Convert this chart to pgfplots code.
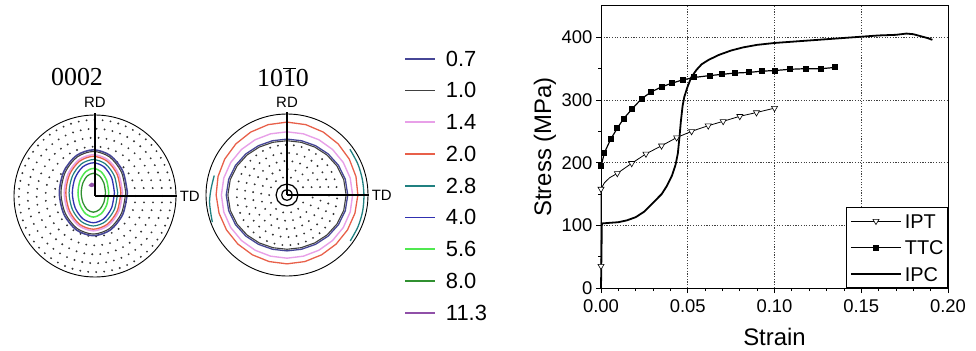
\documentclass[border=0pt]{standalone}
\usepackage{fontspec}
\setmainfont{Liberation Sans}
\newfontfamily\seriffont{Liberation Serif}
\usepackage{pgfplots}
\pgfplotsset{compat=1.18}
\usepgfplotslibrary{polar}
\definecolor{c07}{RGB}{70,70,150}
\definecolor{c10}{RGB}{64,64,64}
\definecolor{c14}{RGB}{232,160,232}
\definecolor{c20}{RGB}{232,96,74}
\definecolor{c28}{RGB}{32,128,128}
\definecolor{c40}{RGB}{48,48,176}
\definecolor{c56}{RGB}{80,232,80}
\definecolor{c80}{RGB}{48,144,48}
\definecolor{c113}{RGB}{144,80,168}
\pgfplotsset{pf/.style={scale only axis, width=162bp, height=162bp, ymin=0, ymax=1,
  xtick=\empty, yticklabels={}, xmajorgrids=false, ymajorgrids=true, major tick length=0pt,
  major grid style={black!80, line width=2.1bp, dash pattern=on 0pt off 8bp, line cap=round},
  axis line style={black, line width=0.9bp}, clip=false}}
\begin{document}
\begin{tikzpicture}
\useasboundingbox (0,0) rectangle (976bp,351bp);
% ---------------- pole figure 0002 ----------------
\begin{polaraxis}[pf, at={(95bp,155bp)}, anchor=center,
  ytick={0.17,0.28,0.39,0.50,0.61,0.72,0.83,0.94}]
\addplot[c07, line width=1.6bp, fill=white, smooth, data cs=cart, forget plot] coordinates {(.40,.04)(.3437,.305)(.19,.499)(-.02,.57)(-.23,.499)(-.3837,.305)(-.44,.04)(-.3837,-.225)(-.23,-.419)(-.02,-.49)(.19,-.419)(.3437,-.225)(.40,.04)};
\addplot[c10, line width=1.1bp, smooth, data cs=cart, forget plot] coordinates {(.38,.04)(.3264,.295)(.18,.4817)(-.02,.55)(-.22,.4817)(-.3664,.295)(-.42,.04)(-.3664,-.215)(-.22,-.4017)(-.02,-.47)(.18,-.4017)(.3264,-.215)(.38,.04)};
\addplot[c14, line width=1.5bp, smooth, data cs=cart, forget plot] coordinates {(.34,.04)(.2918,.275)(.16,.447)(-.02,.51)(-.20,.447)(-.3318,.275)(-.38,.04)(-.3318,-.195)(-.20,-.367)(-.02,-.43)(.16,-.367)(.2918,-.195)(.34,.04)};
\addplot[c20, line width=1.3bp, smooth, data cs=cart, forget plot] coordinates {(.32,.04)(.2744,.265)(.15,.4297)(-.02,.49)(-.19,.4297)(-.3144,.265)(-.36,.04)(-.3144,-.185)(-.19,-.3497)(-.02,-.41)(.15,-.3497)(.2744,-.185)(.32,.04)};
\addplot[c28, line width=1.2bp, smooth, data cs=cart, forget plot] coordinates {(.28,.04)(.2398,.245)(.13,.3951)(-.02,.45)(-.17,.3951)(-.2798,.245)(-.32,.04)(-.2798,-.165)(-.17,-.3151)(-.02,-.37)(.13,-.3151)(.2398,-.165)(.28,.04)};
\addplot[c40, line width=1.3bp, smooth, data cs=cart, forget plot] coordinates {(.24,.04)(.2052,.225)(.11,.3604)(-.02,.41)(-.15,.3604)(-.2452,.225)(-.28,.04)(-.2452,-.145)(-.15,-.2804)(-.02,-.33)(.11,-.2804)(.2052,-.145)(.24,.04)};
\addplot[c56, line width=1.5bp, smooth, data cs=cart, forget plot] coordinates {(.17,.04)(.1445,.19)(.075,.2998)(-.02,.34)(-.115,.2998)(-.1845,.19)(-.21,.04)(-.1845,-.11)(-.115,-.2198)(-.02,-.26)(.075,-.2198)(.1445,-.11)(.17,.04)};
\addplot[c80, line width=1.3bp, smooth, data cs=cart, forget plot] coordinates {(.13,.04)(.1099,.16)(.055,.2478)(-.02,.28)(-.095,.2478)(-.1499,.16)(-.17,.04)(-.1499,-.08)(-.095,-.1678)(-.02,-.20)(.055,-.1678)(.1099,-.08)(.13,.04)};
\addplot[c113, line width=0.8bp, fill=c113, smooth, data cs=cart, forget plot] coordinates {(-.075,.13)(-.04,.16)(-.005,.135)(-.04,.115)(-.075,.13)};
\addplot[black, line width=1.1bp, forget plot] coordinates {(90,0) (90,1.03)};
\addplot[black, line width=1.1bp, forget plot] coordinates {(0,0) (0,1.01)};
\node[font=\fontsize{15}{17}\selectfont] at (axis cs:90,1.15) {RD};
\node[font=\fontsize{15}{17}\selectfont] at (axis cs:0,1.17) {TD};
\end{polaraxis}
% ---------------- pole figure 10-10 ----------------
\begin{polaraxis}[pf, at={(287bp,156bp)}, anchor=center,
  ytick={0.22,0.32,0.42,0.52,0.62},
  legend style={at={(1.222,1.395)}, anchor=north west, draw=none, fill=none, inner sep=0pt,
    row sep=15.75bp, column sep=10bp, font=\fontsize{22}{24}\selectfont,
    nodes={inner sep=0pt, text height=16bp, text depth=0pt}, cells={anchor=base west}},
  legend image code/.code={\draw[#1] (0bp,7.5bp) -- (30bp,7.5bp);}]
\addplot[c20, line width=1.3bp, forget plot] coordinates {(0,.875)(15,.8815)(30,.8875)(45,.8927)(60,.8967)(75,.8991)(90,.90)(105,.8991)(120,.8967)(135,.8927)(150,.8875)(165,.8815)(180,.875)(195,.8685)(210,.8625)(225,.8573)(240,.8533)(255,.8509)(270,.85)(285,.8509)(300,.8533)(315,.8573)(330,.8625)(345,.8685)(360,.875)};
\addplot[c14, line width=1.4bp, forget plot] coordinates {(0,.81)(15,.808)(30,.8025)(45,.795)(60,.7875)(75,.782)(90,.78)(105,.782)(120,.7875)(135,.795)(150,.8025)(165,.808)(180,.81)(195,.808)(210,.8025)(225,.795)(240,.7875)(255,.782)(270,.78)(285,.782)(300,.7875)(315,.795)(330,.8025)(345,.808)(360,.81)};
\addplot[c07, line width=1.3bp, forget plot] coordinates {(0,.75)(15,.7455)(30,.7335)(45,.7181)(60,.7036)(75,.6935)(90,.69)(105,.6935)(120,.7036)(135,.7181)(150,.7335)(165,.7455)(180,.75)(195,.7455)(210,.7335)(225,.7181)(240,.7036)(255,.6935)(270,.69)(285,.6935)(300,.7036)(315,.7181)(330,.7335)(345,.7455)(360,.75)};
\addplot[c10, line width=1.1bp, forget plot] coordinates {(0,.73)(15,.7255)(30,.7135)(45,.6981)(60,.6836)(75,.6735)(90,.67)(105,.6735)(120,.6836)(135,.6981)(150,.7135)(165,.7255)(180,.73)(195,.7255)(210,.7135)(225,.6981)(240,.6836)(255,.6735)(270,.67)(285,.6735)(300,.6836)(315,.6981)(330,.7135)(345,.7255)(360,.73)};
\addplot[c28, line width=1.3bp, smooth, data cs=cart, forget plot] coordinates {(.7766,.5645)(.8724,.3884)(.9292,.1975)(.95,0)(.9341,-.1985)(.877,-.3904)(.7807,-.5674)};
\addplot[c28, line width=1.3bp, smooth, data cs=cart, forget plot] coordinates {(-.8983,.2407)(-.9364,.082)(-.9564,-.0837)(-.9369,-.251)(-.9209,-.3352)};
\addplot[black, line width=1.2bp, forget plot] coordinates {(0,.135)(30,.135)(60,.135)(90,.135)(120,.135)(150,.135)(180,.135)(210,.135)(240,.135)(270,.135)(300,.135)(330,.135)(360,.135)};
\addplot[black, line width=1.2bp, forget plot] coordinates {(0,.065)(30,.065)(60,.065)(90,.065)(120,.065)(150,.065)(180,.065)(210,.065)(240,.065)(270,.065)(300,.065)(330,.065)(360,.065)};
\addplot[black, line width=1.1bp, forget plot] coordinates {(90,0) (90,1.02)};
\addplot[black, line width=1.1bp, forget plot] coordinates {(0,0) (0,1.01)};
\node[font=\fontsize{15}{17}\selectfont] at (axis cs:90,1.14) {RD};
\node[font=\fontsize{15}{17}\selectfont] at (axis cs:0,1.17) {TD};
\addlegendimage{c07, line width=1.8bp}\addlegendentry{0.7}
\addlegendimage{c10, line width=1.8bp}\addlegendentry{1.0}
\addlegendimage{c14, line width=1.8bp}\addlegendentry{1.4}
\addlegendimage{c20, line width=1.8bp}\addlegendentry{2.0}
\addlegendimage{c28, line width=1.8bp}\addlegendentry{2.8}
\addlegendimage{c40, line width=1.8bp}\addlegendentry{4.0}
\addlegendimage{c56, line width=1.8bp}\addlegendentry{5.6}
\addlegendimage{c80, line width=1.8bp}\addlegendentry{8.0}
\addlegendimage{c113, line width=1.8bp}\addlegendentry{11.3}
\end{polaraxis}
\node[font=\seriffont\fontsize{26}{28}\selectfont] at (77bp,274bp) {0002};
\node[font=\seriffont\fontsize{26}{28}\selectfont] at (283bp,274bp) {10$\overline{\hbox{1}}$0};
% ---------------- stress-strain ----------------
\begin{axis}[at={(601bp,63bp)}, anchor=south west, scale only axis, width=347bp, height=282bp,
  xmin=0, xmax=0.2, ymin=0, ymax=450,
  xtick={0,0.05,0.1,0.15,0.2}, xticklabels={0.00,0.05,0.10,0.15,0.20},
  ytick={0,100,200,300,400}, yticklabels={0,100,200,300,400},
  minor x tick num=4, minor y tick num=1, tick align=outside, tick pos=left,
  major tick length=5bp, minor tick length=3bp, tick style={black, line width=0.8bp},
  xmajorgrids, ymajorgrids, major grid style={black!75, line width=0.6bp, dash pattern=on 1.2bp off 1.5bp},
  axis line style={black, line width=1bp},
  ticklabel style={font=\fontsize{18.5}{20}\selectfont},
  xticklabel style={yshift=-3bp},
  xlabel=Strain, ylabel={Stress (MPa)},
  label style={font=\fontsize{24}{26}\selectfont, inner sep=0pt},
  xlabel style={at={(axis description cs:0.5,0)}, anchor=north, yshift=-40bp},
  ylabel style={at={(axis description cs:0,0.5)}, anchor=center, yshift=56bp},
  clip=false,
  legend style={at={(1,0)}, anchor=south east, draw=black, line width=0.8bp, fill=white,
    inner xsep=4bp, inner ysep=6.5bp, row sep=12bp, column sep=3bp,
    font=\fontsize{20}{22}\selectfont, nodes={inner sep=0pt, text height=14.5bp, text depth=0pt},
    cells={anchor=base west}},
  legend image code/.code={\draw[mark repeat=2, mark phase=2, #1] plot coordinates {(0bp,7bp) (25bp,7bp) (50bp,7bp)};}]
% IPC
\addplot[black, line width=1.8bp, forget plot] coordinates {(0,0) (0.0005,103) (0.005,104) (0.010,105) (0.015,108) (0.020,113) (0.025,122) (0.030,136) (0.035,150) (0.038,163) (0.041,180) (0.043,197) (0.0443,215) (0.0452,240) (0.046,265) (0.047,290) (0.048,305) (0.050,322) (0.052,336) (0.055,348) (0.058,357) (0.062,364) (0.068,372) (0.075,379) (0.082,384) (0.090,388) (0.100,391) (0.110,393) (0.120,395) (0.130,397) (0.140,399) (0.150,401) (0.160,403) (0.170,404) (0.176,406) (0.180,405) (0.184,402) (0.188,399) (0.191,396)};
% IPT
\addplot[black, line width=0.8bp, forget plot] coordinates {(0,35) (0,158) (0.002,168) (0.005,176) (0.0094,183) (0.0177,199) (0.0259,214) (0.0349,227) (0.0436,240) (0.0522,250) (0.0618,259) (0.0704,266) (0.080,274) (0.0896,280) (0.100,287)};
\addplot[only marks, mark=triangle*, mark size=3.5bp, mark options={rotate=180, fill=white, draw=black, line width=0.6bp}, forget plot] coordinates {(0,35) (0,158) (0.0094,183) (0.0177,199) (0.0259,214) (0.0349,227) (0.0436,240) (0.0522,250) (0.0618,259) (0.0704,266) (0.080,274) (0.0896,280) (0.100,287)};
% TTC
\addplot[black, line width=1.2bp, mark=square*, mark size=2.4bp, forget plot] coordinates {(0.000,194) (0.002,216) (0.0055,237) (0.0094,255) (0.013,270) (0.018,286) (0.0234,302) (0.029,313) (0.035,321) (0.041,327) (0.047,332) (0.0538,336) (0.0628,339) (0.0700,341) (0.0772,343) (0.0853,344) (0.0926,346) (0.100,347) (0.109,349) (0.118,350) (0.127,350) (0.135,352)};
\addlegendimage{black, line width=0.8bp, mark=triangle*, mark size=3.5bp, mark options={rotate=180, fill=white, line width=0.6bp}}
\addlegendentry{IPT}
\addlegendimage{black, line width=1.2bp, mark=square*, mark size=2.4bp}
\addlegendentry{TTC}
\addlegendimage{black, line width=1.8bp}
\addlegendentry{IPC}
\end{axis}
\end{tikzpicture}
\end{document}
